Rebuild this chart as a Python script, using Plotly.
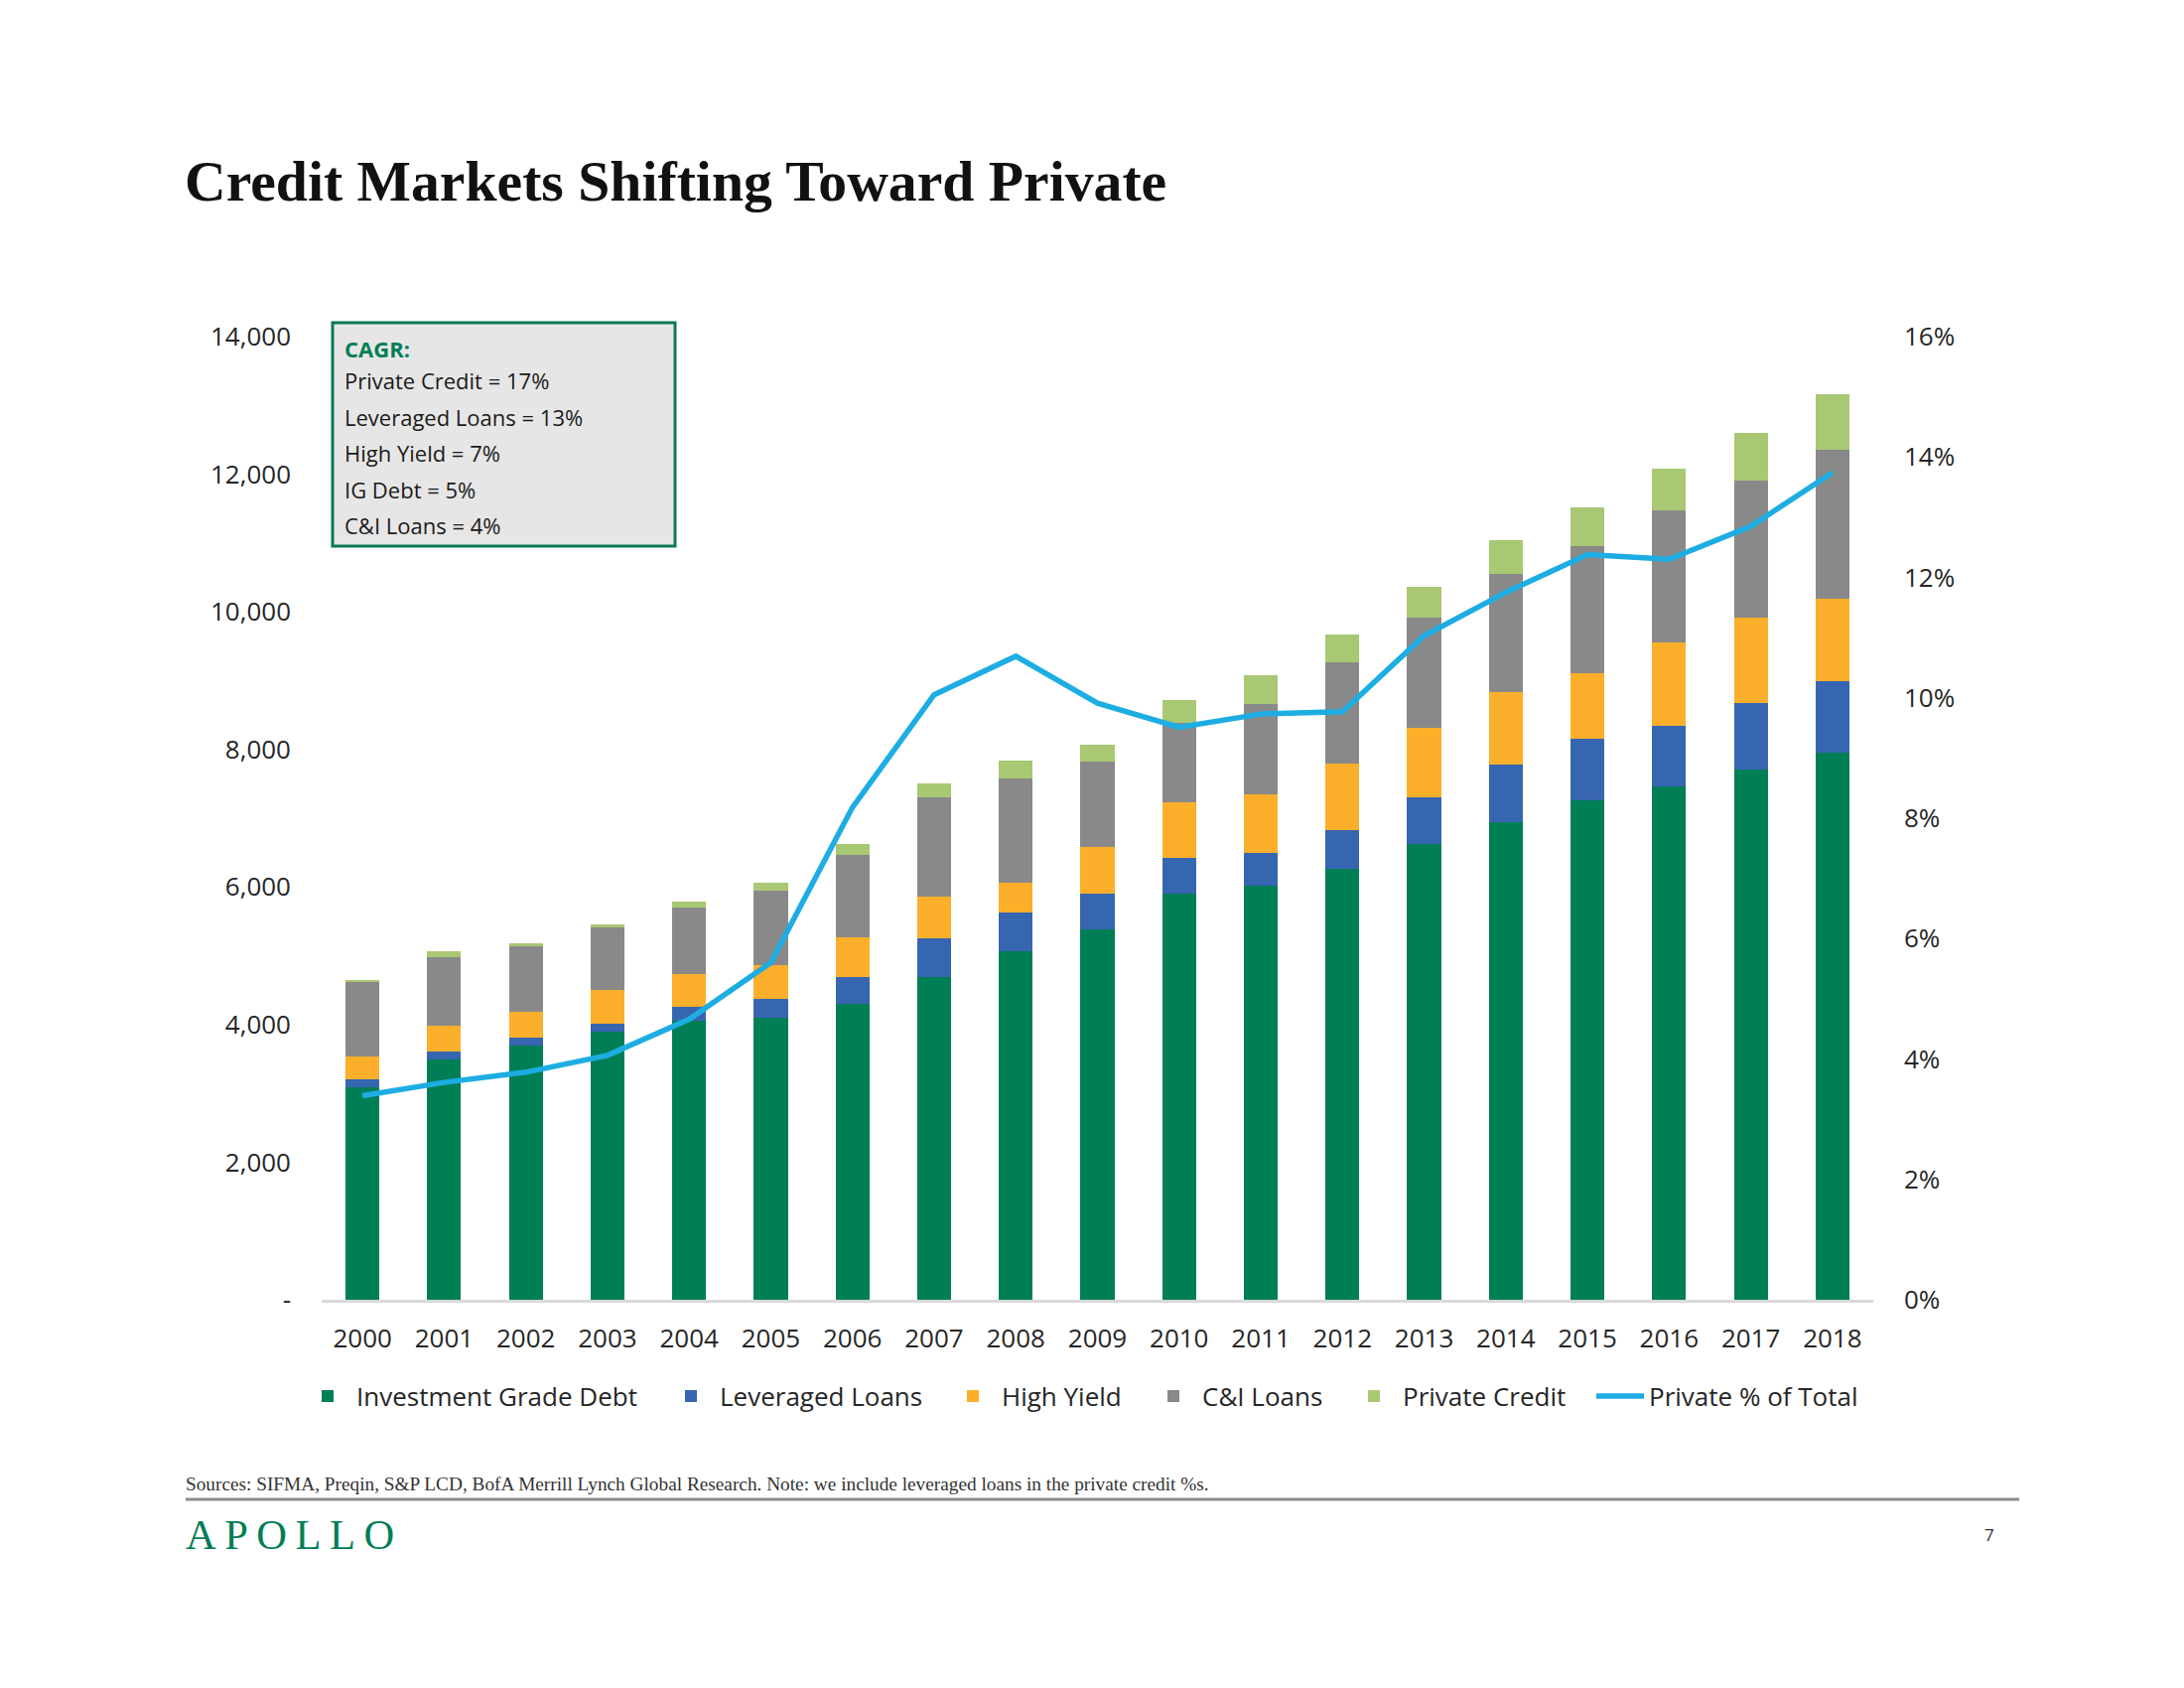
import plotly.graph_objects as go

years = [str(y) for y in range(2000, 2019)]
investment_grade = [3090, 3498, 3695, 3897, 4060, 4099, 4301, 4695, 5061, 5384,
                    5903, 6023, 6262, 6621, 6936, 7266, 7467, 7707, 7948]
leveraged_loans = [120, 110, 120, 116, 198, 274, 394, 559, 563, 519,
                   520, 477, 567, 688, 847, 884, 880, 963, 1044]
high_yield = [327, 371, 366, 490, 481, 486, 569, 610, 438, 678,
              808, 852, 961, 1005, 1047, 962, 1212, 1250, 1202]
ci_loans = [1083, 1000, 957, 909, 962, 1083, 1202, 1443, 1515, 1242,
            1160, 1308, 1478, 1599, 1721, 1843, 1915, 1987, 2161]
private_credit = [33, 82, 39, 48, 82, 120, 159, 202, 256, 245,
                  323, 414, 409, 445, 490, 563, 606, 693, 813]
private_pct = [0.0339, 0.0361, 0.0378, 0.0406, 0.0466, 0.0560, 0.0818, 0.1005, 0.1069, 0.0991,
               0.0951, 0.0973, 0.0977, 0.1103, 0.1175, 0.1238, 0.1230, 0.1285, 0.1374]

left_tickvals = [0, 2000, 4000, 6000, 8000, 10000, 12000, 14000]
left_ticktext = ["-", "2,000", "4,000", "6,000", "8,000", "10,000", "12,000", "14,000"]
right_tickvals = [0, 0.02, 0.04, 0.06, 0.08, 0.10, 0.12, 0.14, 0.16]
right_ticktext = ["0%", "2%", "4%", "6%", "8%", "10%", "12%", "14%", "16%"]

cagr_lines = ["Private Credit = 17%", "Leveraged Loans = 13%", "High Yield = 7%",
              "IG Debt = 5%", "C&I Loans = 4%"]

# figure sits inside the page body (8px default margin)
W, H = 2184, 1684
L, T = 316, 331
PW, PH = 1563, 970
R, B = W - L - PW, H - T - PH


def px(x):  # page pixel -> paper
    return (x - 8 - L) / PW


def py(y):
    return (T + PH - (y - 8)) / PH


SANS = "Open Sans"
SERIF = "Liberation Serif"
TXT = "#262626"
GREEN = "#007E55"

fig = go.Figure()
series = [
    ("Investment Grade Debt", investment_grade, "#007E55"),
    ("Leveraged Loans", leveraged_loans, "#3766B1"),
    ("High Yield", high_yield, "#FCAF2B"),
    ("C&I Loans", ci_loans, "#898989"),
    ("Private Credit", private_credit, "#A8C873"),
]
legend_ids = ["legend", "legend2", "legend3", "legend4", "legend5", "legend6"]
text_starts = [359, 725, 1009, 1211, 1413, 1661]

for (name, vals, col), lid in zip(series, legend_ids):
    fig.add_trace(go.Bar(x=years, y=vals, name=name, legend=lid,
                         marker=dict(color=col, line=dict(width=0))))

fig.add_trace(go.Scatter(x=years, y=private_pct, name="Private % of Total", yaxis="y2",
                         legend="legend6", mode="lines", line=dict(color="#1DADE3", width=5.5)))

fig.update_layout(
    width=W, height=H, autosize=False,
    margin=dict(l=L, r=R, t=T, b=B),
    paper_bgcolor="white", plot_bgcolor="white",
    barmode="stack", bargap=0.585,
    font=dict(family=SANS, color=TXT),
    xaxis=dict(type="category", showgrid=False, zeroline=False, showline=True,
               linecolor="#D9D9D9", linewidth=3, ticks="", tickfont=dict(size=26, color=TXT),
               ticklabelstandoff=14),
    yaxis=dict(range=[0, 14000], tickvals=left_tickvals, ticktext=left_ticktext,
               showgrid=False, zeroline=False, showline=False, ticks="",
               tickfont=dict(size=26, color=TXT), ticklabelstandoff=30),
    yaxis2=dict(range=[0, 0.16], tickvals=right_tickvals, ticktext=right_ticktext,
                overlaying="y", side="right", showgrid=False, zeroline=False, showline=False,
                ticks="", tickfont=dict(size=26, color=TXT), ticklabelstandoff=30),
    showlegend=True,
)

TEXT_OFFSET = 58
for lid, ts in zip(legend_ids, text_starts):
    fig.update_layout({lid: dict(orientation="h", x=px(ts - TEXT_OFFSET), xanchor="left",
                                 y=py(1406), yanchor="middle", font=dict(size=26, color=TXT),
                                 itemwidth=48, bgcolor="rgba(0,0,0,0)", borderwidth=0)})

shapes = [
    dict(type="rect", xref="paper", yref="paper", x0=px(335), x1=px(680), y0=py(550), y1=py(325),
         fillcolor="#E7E6E6", line=dict(color="#0B7A50", width=3), layer="above"),
    dict(type="line", xref="paper", yref="paper", x0=px(187), x1=px(2034), y0=py(1510), y1=py(1510),
         line=dict(color="#8C8C8C", width=3)),
]
fig.update_layout(shapes=shapes)

ann = []
ann.append(dict(text="<b>Credit Markets Shifting Toward Private</b>", x=px(184), y=py(183),
                xref="paper", yref="paper", xanchor="left", yanchor="middle", showarrow=False,
                font=dict(family=SERIF, size=57.7, color="#111111")))
ann.append(dict(text="<b>CAGR:</b>", x=px(345), y=py(351), xref="paper", yref="paper",
                xanchor="left", yanchor="middle", showarrow=False,
                font=dict(family=SANS, size=22, color=GREEN)))
line_y = [383, 419.5, 456, 492.5, 529]
for t, yy in zip(cagr_lines, line_y):
    ann.append(dict(text=t, x=px(345), y=py(yy), xref="paper", yref="paper",
                    xanchor="left", yanchor="middle", showarrow=False,
                    font=dict(family=SANS, size=22, color="#1a1a1a")))
ann.append(dict(text="Sources: SIFMA, Preqin, S&P LCD, BofA Merrill Lynch Global Research. Note: we include leveraged loans in the private credit %s.",
                x=px(185), y=py(1494), xref="paper", yref="paper", xanchor="left", yanchor="middle",
                showarrow=False, font=dict(family=SERIF, size=19.3, color="#333333")))
ann.append(dict(text="A\u2009P\u2009O\u2009L\u2009L\u2009O", x=px(185), y=py(1545), xref="paper", yref="paper",
                xanchor="left", yanchor="middle", showarrow=False,
                font=dict(family=SERIF, size=42.5, color=GREEN)))
ann.append(dict(text="7", x=px(2004), y=py(1545), xref="paper", yref="paper",
                xanchor="center", yanchor="middle", showarrow=False,
                font=dict(family=SANS, size=17, color="#333333")))
fig.update_layout(annotations=ann)

fig.write_html("out.html")
